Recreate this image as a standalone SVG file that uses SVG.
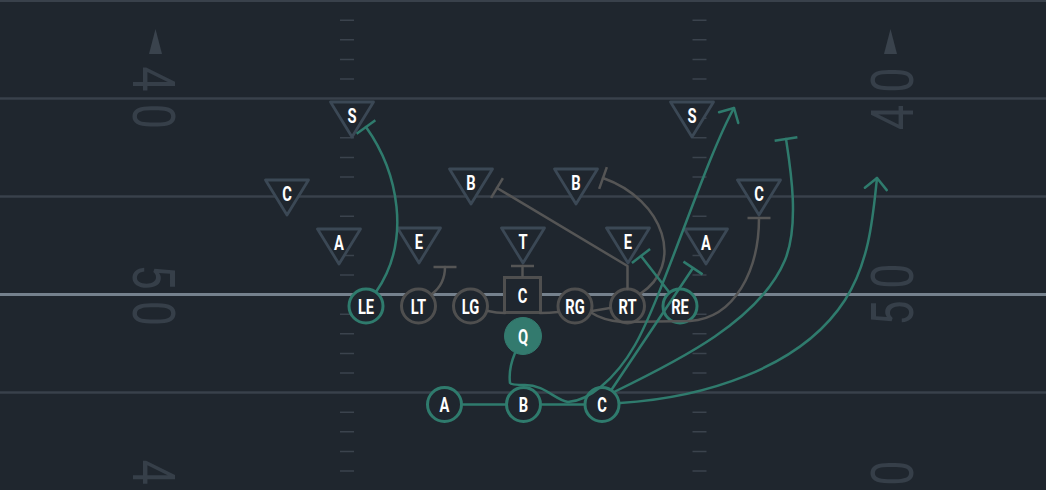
<svg xmlns="http://www.w3.org/2000/svg" width="1046" height="490" viewBox="0 0 1046 490">
<style>
.yl{stroke:#39414b;stroke-width:2.5}
.yl50{stroke:#75818d;stroke-width:3}
.hash{stroke:#3b434d;stroke-width:1.5}
.num{font-family:Roboto,"Liberation Sans",sans-serif;font-size:60px;fill:#363f49;text-anchor:middle}
.arr{fill:#3a434d}
.def polygon{fill:#1f262e;stroke:#3b4855;stroke-width:2.8;stroke-linejoin:round}
.lbl{font-family:Roboto,"Liberation Sans",sans-serif;font-weight:700;font-size:21px;fill:#ffffff;text-anchor:middle}
.off circle,.off rect{fill:#1f262e;stroke:#4f4f4f;stroke-width:3}
.tm circle{stroke:#2f7b6d}
.qb circle{fill:#337a6e;stroke:#337a6e;stroke-width:1}
.rt{fill:none;stroke:#2f7b6d;stroke-width:2.5;stroke-linecap:round;stroke-linejoin:round}
.rg{fill:none;stroke:#555555;stroke-width:2.5;stroke-linecap:round;stroke-linejoin:round}
</style>
<defs>
<marker id="teeT" markerUnits="userSpaceOnUse" viewBox="-15 -15 30 30" markerWidth="30" markerHeight="30" refX="0" refY="0" orient="auto"><path d="M0,-11.5 V11.5" stroke="#2f7b6d" stroke-width="2.5" fill="none"/></marker>
<marker id="teeG" markerUnits="userSpaceOnUse" viewBox="-15 -15 30 30" markerWidth="30" markerHeight="30" refX="0" refY="0" orient="auto"><path d="M0,-11.5 V11.5" stroke="#555555" stroke-width="2.5" fill="none"/></marker>
<marker id="arrT" markerUnits="userSpaceOnUse" viewBox="-15 -15 30 30" markerWidth="30" markerHeight="30" refX="0" refY="0" orient="auto"><path d="M-11,-11 L0,0 L-11,11" stroke="#2f7b6d" stroke-width="2.5" fill="none" stroke-linecap="round" stroke-linejoin="round"/></marker>
</defs>
<rect x="0" y="0" width="1046" height="490" fill="#1f262e"/>
<g id="field">
<line class="yl" x1="0" y1="0.8" x2="1046" y2="0.8"/>
<line class="yl" x1="0" y1="98.6" x2="1046" y2="98.6"/>
<line class="yl" x1="0" y1="196.6" x2="1046" y2="196.6"/>
<line class="yl50" x1="0" y1="294.6" x2="1046" y2="294.6"/>
<line class="yl" x1="0" y1="392.6" x2="1046" y2="392.6"/>
<g class="hash">
<path d="M340,20.2H354M340,39.8H354M340,59.4H354M340,79H354M340,118.2H354M340,137.8H354M340,157.4H354M340,177H354M340,216.2H354M340,235.8H354M340,255.4H354M340,275H354M340,314.2H354M340,333.8H354M340,353.4H354M340,373H354M340,412.2H354M340,431.8H354M340,451.4H354M340,471H354"/>
<path d="M692.5,20.2H706.5M692.5,39.8H706.5M692.5,59.4H706.5M692.5,79H706.5M692.5,118.2H706.5M692.5,137.8H706.5M692.5,157.4H706.5M692.5,177H706.5M692.5,216.2H706.5M692.5,235.8H706.5M692.5,255.4H706.5M692.5,275H706.5M692.5,314.2H706.5M692.5,333.8H706.5M692.5,353.4H706.5M692.5,373H706.5M692.5,412.2H706.5M692.5,431.8H706.5M692.5,451.4H706.5M692.5,471H706.5"/>
</g>
<polygon class="arr" points="155.5,29 149,54 162,54"/>
<polygon class="arr" points="890.5,29 884,54 897,54"/>
<text class="num" transform="translate(133,99) rotate(90) scale(0.75,1)" x="-26.7 23.3" y="0">40</text>
<text class="num" transform="translate(133,295) rotate(90) scale(0.75,1)" x="-24 24.7" y="0">50</text>
<text class="num" transform="translate(133,491) rotate(90) scale(0.75,1)" x="-25.3 24" y="0">40</text>
<text class="num" transform="translate(913,99) rotate(-90) scale(0.75,1)" x="-24.7 25.3" y="0">40</text>
<text class="num" transform="translate(913,295) rotate(-90) scale(0.75,1)" x="-24 25.3" y="0">50</text>
<text class="num" transform="translate(913,491) rotate(-90) scale(0.75,1)" x="-24.7 24" y="0">40</text>
</g>
<g id="def-S1" class="def"><polygon points="330.5,102 373.5,102 352,137"/><text class="lbl" transform="translate(352,122.5) scale(0.7,1)">S</text></g>
<g id="def-S2" class="def"><polygon points="670.5,102 713.5,102 692,137"/><text class="lbl" transform="translate(692,122.5) scale(0.7,1)">S</text></g>
<g id="def-C1" class="def"><polygon points="265.5,180 308.5,180 287,215"/><text class="lbl" transform="translate(287,200.5) scale(0.7,1)">C</text></g>
<g id="def-C2" class="def"><polygon points="737.5,180 780.5,180 759,215"/><text class="lbl" transform="translate(759,200.5) scale(0.7,1)">C</text></g>
<g id="def-B1" class="def"><polygon points="449.5,169 492.5,169 471,204"/><text class="lbl" transform="translate(471,189.5) scale(0.7,1)">B</text></g>
<g id="def-B2" class="def"><polygon points="554.5,169 597.5,169 576,204"/><text class="lbl" transform="translate(576,189.5) scale(0.7,1)">B</text></g>
<g id="def-A1" class="def"><polygon points="317.5,229 360.5,229 339,264"/><text class="lbl" transform="translate(339,249.5) scale(0.7,1)">A</text></g>
<g id="def-E1" class="def"><polygon points="397.5,228 440.5,228 419,263"/><text class="lbl" transform="translate(419,248.5) scale(0.7,1)">E</text></g>
<g id="def-T" class="def"><polygon points="501.5,228 544.5,228 523,263"/><text class="lbl" transform="translate(523,248.5) scale(0.7,1)">T</text></g>
<g id="def-E2" class="def"><polygon points="606.5,228 649.5,228 628,263"/><text class="lbl" transform="translate(628,248.5) scale(0.7,1)">E</text></g>
<g id="def-A2" class="def"><polygon points="684.5,229 727.5,229 706,264"/><text class="lbl" transform="translate(706,249.5) scale(0.7,1)">A</text></g>
<g id="off-LE" class="off tm"><circle cx="366" cy="306" r="17"/><text class="lbl" transform="translate(366,313.5) scale(0.7,1)">LE</text></g>
<g id="off-LT" class="off"><circle cx="418.5" cy="306" r="17"/><text class="lbl" transform="translate(418.5,313.5) scale(0.7,1)">LT</text></g>
<g id="off-LG" class="off"><circle cx="470.5" cy="306" r="17"/><text class="lbl" transform="translate(470.5,313.5) scale(0.7,1)">LG</text></g>
<g id="off-C" class="off"><rect x="504.5" y="277.5" width="36" height="35"/><text class="lbl" transform="translate(522.5,302.5) scale(0.7,1)">C</text></g>
<g id="off-RG" class="off"><circle cx="575" cy="306" r="17"/><text class="lbl" transform="translate(575,313.5) scale(0.7,1)">RG</text></g>
<g id="off-RT" class="off"><circle cx="627.5" cy="306" r="17"/><text class="lbl" transform="translate(627.5,313.5) scale(0.7,1)">RT</text></g>
<g id="off-RE" class="off tm"><circle cx="680" cy="306" r="17"/><text class="lbl" transform="translate(680,313.5) scale(0.7,1)">RE</text></g>
<g id="off-Q" class="qb"><circle cx="523" cy="336" r="18.5"/><text class="lbl" transform="translate(523,343.5) scale(0.7,1)">Q</text></g>
<g id="off-A" class="off tm"><circle cx="444.5" cy="404.5" r="17"/><text class="lbl" transform="translate(444.5,412) scale(0.7,1)">A</text></g>
<g id="off-B" class="off tm"><circle cx="523.5" cy="404.5" r="17"/><text class="lbl" transform="translate(523.5,412) scale(0.7,1)">B</text></g>
<g id="off-C2" class="off tm"><circle cx="602" cy="404.5" r="17"/><text class="lbl" transform="translate(602,412) scale(0.7,1)">C</text></g>
<g id="connectors">
<path class="rg" d="M432,294 Q445,284 445,267" marker-end="url(#teeG)"/>
<path class="rg" d="M522.5,276 L522.5,266" marker-end="url(#teeG)"/>
<path class="rg" d="M488,311 Q496,313 505,313 M540,313 Q550,313 558,312"/>
<path class="rg" d="M592,311 L610,308"/>
<path class="rg" d="M592,313 Q602,320 622,322 L690,321 C735,318 759,270 759,218" marker-end="url(#teeG)"/>
<path class="rg" d="M627.5,289 L627.5,266 L497,188" marker-end="url(#teeG)"/>
<path class="rg" d="M640,294 C685,265 665,200 603,178" marker-end="url(#teeG)"/>
<path class="rt" d="M376,292 C412,240 398,172 366,127" marker-end="url(#teeT)"/>
<path class="rt" d="M669,292 L641,256" marker-end="url(#teeT)"/>
<path class="rt" d="M612,389 L693,268" marker-end="url(#teeT)"/>
<path class="rt" d="M515,353 C510,365 509,375 510,383 Q511,385 525,385 C545,385 555,400 568,402 C588,401 615,380 635,345 C662,298 705,160 734,108" marker-end="url(#arrT)"/>
<path class="rt" d="M614,392 C680,360 760,320 785,260 C800,224 790,165 786,139" marker-end="url(#teeT)"/>
<path class="rt" d="M620,403 C700,398 800,370 845,300 C870,261 873,215 877,178" marker-end="url(#arrT)"/>
<path class="rt" d="M463,404.5 L505,404.5 M542,404.5 L583.5,404.5"/>
</g>
</svg>
